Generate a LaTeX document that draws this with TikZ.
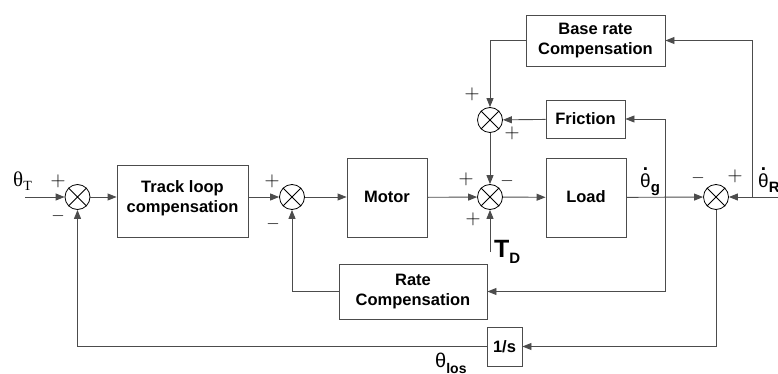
\documentclass[tikz,border=0pt]{standalone}
\usepackage{fontspec}
\setmainfont{Liberation Sans}
\newfontfamily\tmsfont{Liberation Serif}
\usetikzlibrary{arrows.meta}
\newcommand{\dotth}{\ooalign{θ\cr\hidewidth\raisebox{0.88em}{\bfseries .}\hidewidth\cr}}
\begin{document}
\begin{tikzpicture}[x=1pt,y=-1pt,
  line/.style={draw=black!70, line width=0.9pt},
  arr/.style={line, -{Triangle[length=9pt,width=7pt]}},
  blk/.style={draw=black!70, line width=0.9pt, rectangle, inner sep=0pt},
  btxt/.style={font=\fontsize{16.5}{19.5}\selectfont\bfseries, align=center, inner sep=0pt},
  sumj/.style={circle, draw=black, line width=0.8pt, minimum size=25pt, inner sep=0pt},
  sgn/.style={font=\fontsize{22}{22}\selectfont, inner sep=0pt},
  msgn/.style={font=\fontsize{16}{16}\selectfont, inner sep=0pt},
  lbl/.style={inner sep=0pt}
]
\useasboundingbox (0,0) rectangle (778,374);

% blocks
\node[blk, minimum width=131pt, minimum height=72pt] (track) at (182.5,201) {};
\node[btxt] at (182.5,198) {Track loop\\compensation};
\node[blk, minimum width=80pt, minimum height=79pt] (motor) at (387,197.5) {};
\node[btxt] at (387,197) {Motor};
\node[blk, minimum width=80pt, minimum height=79pt] (load) at (586,197.5) {};
\node[btxt] at (586,197) {Load};
\node[blk, minimum width=79pt, minimum height=38pt] (fric) at (585.5,119) {};
\node[btxt] at (585.5,119) {Friction};
\node[blk, minimum width=139pt, minimum height=51pt] (base) at (595.5,40.5) {};
\node[btxt] at (595.5,40.5) {Base rate\\Compensation};
\node[blk, minimum width=148pt, minimum height=55pt] (rate) at (413,291.5) {};
\node[btxt] at (413,291.5) {Rate\\Compensation};
\node[blk, minimum width=35pt, minimum height=39pt] (ones) at (504.5,346.5) {};
\node[btxt] at (504.5,346.5) {1/s};

% summing junctions
\foreach \n/\x/\y in {s1/77.5/197, s2/292/197, s3/490/197, s4/490/120, s5/716/197}{
  \node[sumj] (\n) at (\x,\y) {};
  \draw[line width=0.8pt] (\n.north east) -- (\n.south west) (\n.north west) -- (\n.south east);
}

% free ends
\coordinate (tin) at (25,197);
\coordinate (rin) at (778,197);
\coordinate (rb) at (752,197);
\coordinate (gb) at (665,197);
\coordinate (td) at (490,252);

% connectors
\draw[arr] (tin) -- (s1);
\draw[arr] (s1) -- (s1 -| track.west);
\draw[arr] (track.east |- s2) -- (s2);
\draw[arr] (s2) -- (s2 -| motor.west);
\draw[arr] (motor) -- (s3);
\draw[arr] (s3) -- (load);
\draw[arr] (load) -- (s5);
\draw[arr] (rin) -- (s5);
\draw[arr] (rb) |- (base.east);
\draw[arr] (base.west) -| (s4.north);
\draw[arr] (fric) -- (s4);
\draw[arr] (s4) -- (s3);
\draw[arr] (td) -- (s3.south);
\draw[arr] (gb) |- (fric.east);
\draw[arr] (gb) |- (rate.east);
\draw[arr] (rate.west) -| (s2.south);
\draw[arr] (s5.south) |- (ones.east);
\draw[arr] (ones.west) -| (s1.south);

% signs
\node[sgn] (p1) at (58,181) {$+$};
\node[msgn] (m1) at (58,216) {$-$};
\node[sgn] (p2) at (272,181) {$+$};
\node[msgn] (m2) at (273,224) {$-$};
\node[sgn] (p3) at (466,179) {$+$};
\node[msgn] (m3) at (507,181) {$-$};
\node[sgn] (p3b) at (473,219) {$+$};
\node[sgn] (p4) at (472,94) {$+$};
\node[sgn] (p4b) at (512,133) {$+$};
\node[msgn] (m5) at (698,178) {$-$};
\node[sgn] (p5) at (735,176) {$+$};

% labels
\node[lbl, anchor=base west] (thT) at (13,186.5) {\fontsize{21}{21}\selectfont\tmsfont θ\raisebox{-4pt}{\fontsize{14}{14}\selectfont T}};
\node[lbl, anchor=base west] (thg) at (640,187) {\fontsize{19}{19}\selectfont\dotth\raisebox{-5pt}{\fontsize{15}{15}\selectfont\bfseries g}};
\node[lbl, anchor=base west] (thR) at (758,187) {\fontsize{19}{19}\selectfont\dotth\raisebox{-5pt}{\fontsize{15}{15}\selectfont\bfseries R}};
\node[lbl, anchor=base west] (TD) at (494,257) {\fontsize{25}{25}\selectfont\bfseries T\raisebox{-6pt}{\fontsize{15}{15}\selectfont D}};
\node[lbl, anchor=base west] (thl) at (435,367) {\fontsize{20}{20}\selectfont θ\raisebox{-6pt}{\fontsize{14}{14}\selectfont\bfseries los}};
\end{tikzpicture}
\end{document}
